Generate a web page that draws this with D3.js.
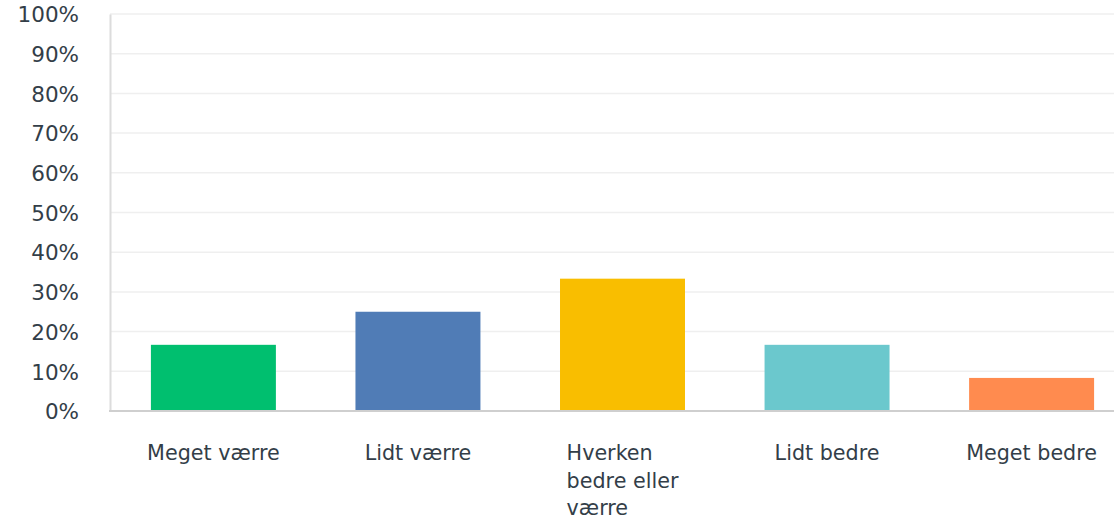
<!DOCTYPE html>
<html><head><meta charset="utf-8">
<script src="https://cdn.jsdelivr.net/npm/d3@7"></script>
<style>body{margin:0;background:#fff;} text{font-family:"DejaVu Sans",sans-serif;}</style>
</head><body>
<svg id="chart" width="1114" height="521"></svg>
<script>
const categories = ["Meget værre","Lidt værre","Hverken bedre eller værre","Lidt bedre","Meget bedre"];
const labelLines = [["Meget værre"],["Lidt værre"],["Hverken","bedre eller","værre"],["Lidt bedre"],["Meget bedre"]];
const values = [16.67, 25, 33.33, 16.67, 8.33];
const colors = ["#00bf6f","#507cb6","#f9be00","#6bc8cd","#ff8b4f"];
const yTicks = [0,10,20,30,40,50,60,70,80,90,100];

const svg = d3.select("#chart");
const L = 110, T = 14, B = 411, R = 1135;
const x = d3.scaleBand().domain(categories).range([L, R]).paddingInner(0.389).paddingOuter(0.2);
const y = d3.scaleLinear().domain([0,100]).range([B, T]);

// gridlines
svg.append("g").selectAll("line").data(yTicks.filter(d=>d>0)).join("line")
  .attr("x1", L).attr("x2", 1114).attr("y1", d=>y(d)).attr("y2", d=>y(d))
  .attr("stroke", "#efefef").attr("stroke-width", 1.5);

// y axis
const yAxis = d3.axisLeft(y).tickValues(yTicks).tickFormat(d=>d+"%").tickSize(0).tickPadding(31);
const gy = svg.append("g").attr("transform", `translate(${L},0)`).call(yAxis);
gy.select(".domain").attr("stroke", "#dcdcdc").attr("stroke-width", 2);
gy.selectAll("text").attr("font-size", 21.5).attr("fill", "#333e48").attr("font-family", "DejaVu Sans").attr("dy", "0.36em");

// bars
svg.append("g").selectAll("rect").data(values).join("rect")
  .attr("x", (d,i)=>x(categories[i])).attr("width", x.bandwidth())
  .attr("y", d=>y(d)).attr("height", d=>B - y(d))
  .attr("fill", (d,i)=>colors[i]);

// baseline
svg.append("line").attr("x1", L-1).attr("x2", 1114).attr("y1", B).attr("y2", B)
  .attr("stroke", "#cfcfcf").attr("stroke-width", 2);

// x labels
const gx = svg.append("g");
categories.forEach((c,i)=>{
  const cx = x(c) + x.bandwidth()/2;
  const t = gx.append("text").attr("font-size", 20.7).attr("fill", "#333e48").attr("text-anchor","start");
  labelLines[i].forEach((ln,j)=>{
    t.append("tspan").attr("dy", j===0 ? 0 : 27.5).attr("x", 0).text(ln);
  });
  let w = 0;
  t.selectAll("tspan").each(function(){ w = Math.max(w, this.getComputedTextLength()); });
  t.selectAll("tspan").attr("x", cx - w/2);
  t.attr("y", 460);
  t.select("tspan").attr("y", 460);
});
</script>
</body></html>
